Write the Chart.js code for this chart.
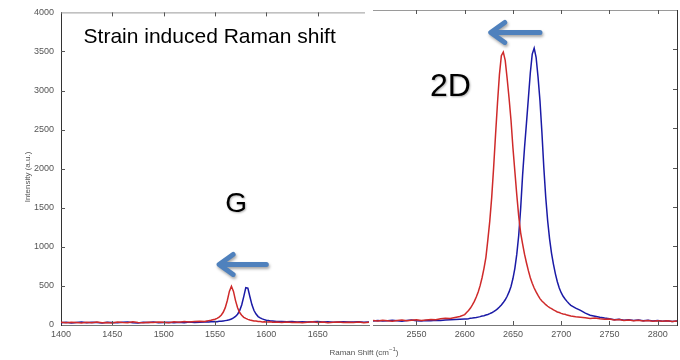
<!DOCTYPE html>
<html>
<head>
<meta charset="utf-8">
<script src="https://cdn.jsdelivr.net/npm/chart.js@4.4.1/dist/chart.umd.min.js"></script>
<style>
  html, body { margin: 0; padding: 0; background: #fff; }
  #wrap { position: relative; width: 680px; height: 360px; }
  canvas { position: absolute; top: 0; }
  #gChart { left: 0; }
  #dChart { left: 372px; }
</style>
</head>
<body>
<div id="wrap">
  <canvas id="gChart" width="680" height="360"></canvas>
  <canvas id="dChart" width="308" height="360"></canvas>
</div>
<script>

/*
** Spectrum data (Raman shift in cm-1, intensity in a.u.)
*/
var gShift = [1400,1405,1410,1415,1420,1425,1430,1435,1440,1445,1450,1455,1460,1465,1470,1475,1480,1485,1490,1495,1500,1505,1510,1515,1520,1525,1530,1535,1540,
    1542,1544,1546,1548,1550,1552,1554,1556,1558,1560,1562,1564,1566,1568,1570,1572,1574,1576,1578,1580,1582,1584,1586,1588,1590,1592,1594,1596,1598,1600,1602,1604,1606,1608,1610,
    1615,1620,1625,1630,1635,1640,1645,1650,1655,1660,1665,1670,1675,1680,1685,1690,1695,1700];
var gRed = [34,28,36,31,27,35,30,38,29,33,26,37,31,28,40,33,29,36,32,39,34,30,41,36,45,38,44,49,46,
    52,56,60,67,74,85,101,125,163,222,314,430,495,430,312,220,160,125,98,84,72,63,58,52,50,46,44,40,42,38,37,41,36,34,37,
    33,38,31,36,29,35,40,32,37,30,34,39,31,36,33,38,30,35];
var gBlue = [30,35,27,33,38,29,34,31,26,36,32,29,35,38,30,27,34,31,37,29,33,36,30,34,28,37,33,35,39,
    40,38,42,41,44,43,48,47,52,56,60,68,77,90,109,138,184,257,363,478,472,362,258,185,140,108,92,78,69,60,57,51,50,47,44,
    46,41,44,39,43,37,42,45,38,41,36,40,43,37,39,42,36,40];

var dShift = [2505,2510,2515,2520,2525,2530,2535,2540,2545,2550,2555,2560,2565,2570,2575,2580,2585,2590,2595,2600,
    2602,2604,2606,2608,2610,2612,2614,2616,2618,2620,2622,2624,2626,2628,2630,2632,2634,2636,2638,2640,
    2642,2644,2646,2648,2650,2652,2654,2656,2658,2660,2662,2664,2666,2668,2670,2672,2674,2676,2678,2680,
    2682,2684,2686,2688,2690,2692,2694,2696,2698,2700,2702,2704,2706,2708,2710,
    2715,2720,2725,2730,2735,2740,2745,2750,2755,2760,2765,2770,2775,2780,2785,2790,2795,2800,2805,2810,2815,2820];
var dRed = [58,52,61,55,49,57,63,54,60,66,58,64,71,67,78,85,82,96,108,132,
    160,185,215,255,300,355,420,500,600,720,860,1080,1320,1620,2000,2420,2820,3180,3420,3465,
    3360,3130,2880,2600,2250,1950,1650,1380,1170,1030,900,790,690,600,530,470,420,375,335,305,
    283,258,238,220,209,192,180,165,158,148,140,136,126,120,114,
    105,98,92,84,88,79,72,76,64,69,58,62,55,60,52,57,49,55,47,53,45,50];
var dBlue = [52,57,50,55,60,53,49,56,62,55,51,58,54,61,57,63,66,70,72,75,
    76,80,87,88,92,94,100,106,115,118,126,134,144,155,170,186,205,228,255,285,
    320,365,420,490,590,720,900,1140,1480,1900,2250,2560,2880,3200,3440,3515,3400,3150,2850,2450,
    2000,1620,1320,1090,910,770,650,550,470,410,365,330,300,272,250,
    215,185,150,125,112,98,88,80,68,72,61,66,57,62,54,59,51,56,48,54,46,52];

var gTicks = [1400, 1450, 1500, 1550, 1600, 1650];
var dTicks = [2550, 2600, 2650, 2700, 2750, 2800];
var yTicks = [0, 500, 1000, 1500, 2000, 2500, 3000, 3500, 4000];

Chart.defaults.font.family = "'Liberation Sans', Arial, sans-serif";

function pts(xs, ys) {
    return xs.map(function (x, i) { return {x: x, y: ys[i]}; });
}

function setTicks(list) {
    return function (scale) {
        scale.ticks = list.map(function (v) { return {value: v}; });
    };
}

function plain(v) {
    return String(v);
}

/*
** Inward tick marks and the frame lines (MATLAB style)
*/
function framePlugin(side) {
    return {
        id: 'frame' + side,
        afterDraw: function (chart) {
            var ctx = chart.ctx, a = chart.chartArea;
            var x = chart.scales.x, y = chart.scales.y;
            var len = 4;
            ctx.save();
            ctx.lineWidth = 1;
            // top border
            ctx.strokeStyle = '#9a9a9a';
            ctx.beginPath();
            ctx.moveTo(a.left, a.top + 0.5);
            ctx.lineTo(side === 'left' ? a.right - 4 : a.right, a.top + 0.5);
            ctx.stroke();
            ctx.strokeStyle = '#555';
            ctx.beginPath();
            x.ticks.forEach(function (t) {
                var px = Math.round(x.getPixelForValue(t.value)) + 0.5;
                if (px <= a.left + 1) return;
                ctx.moveTo(px, a.bottom);
                ctx.lineTo(px, a.bottom - len);
                ctx.moveTo(px, a.top);
                ctx.lineTo(px, a.top + len);
            });
            y.ticks.forEach(function (t) {
                var py = Math.round(y.getPixelForValue(t.value)) + 0.5;
                if (py >= a.bottom - 1 || py <= a.top + 1) return;
                if (side === 'left') {
                    ctx.moveTo(a.left, py);
                    ctx.lineTo(a.left + len, py);
                } else {
                    ctx.moveTo(a.right, py);
                    ctx.lineTo(a.right - len, py);
                }
            });
            ctx.stroke();
            ctx.restore();
        }
    };
}

function drawArrow(ctx, tail, tip, y) {
    ctx.save();
    ctx.strokeStyle = '#4f81bd';
    ctx.lineWidth = 5;
    ctx.lineCap = 'round';
    ctx.lineJoin = 'round';
    ctx.shadowColor = 'rgba(0,0,0,0.35)';
    ctx.shadowBlur = 3;
    ctx.shadowOffsetX = 1;
    ctx.shadowOffsetY = 2;
    ctx.beginPath();
    ctx.moveTo(tail, y);
    ctx.lineTo(tip + 2, y);
    ctx.moveTo(tip + 14, y - 10);
    ctx.lineTo(tip, y);
    ctx.lineTo(tip + 14, y + 10);
    ctx.stroke();
    ctx.restore();
}

function bigText(ctx, txt, px, py, size) {
    ctx.save();
    ctx.fillStyle = '#000';
    ctx.font = size + "px 'Liberation Sans', Arial, sans-serif";
    ctx.textBaseline = 'alphabetic';
    ctx.shadowColor = 'rgba(0,0,0,0.3)';
    ctx.shadowBlur = 2;
    ctx.shadowOffsetX = 1;
    ctx.shadowOffsetY = 1;
    ctx.fillText(txt, px, py);
    ctx.restore();
}

/*
** Labels, arrows and axis titles of the G panel
*/
var gNotes = {
    id: 'gNotes',
    afterDraw: function (chart) {
        var ctx = chart.ctx, a = chart.chartArea;
        var x = chart.scales.x, y = chart.scales.y;
        ctx.save();
        ctx.fillStyle = '#000';
        ctx.font = "21px 'Liberation Sans', Arial, sans-serif";
        ctx.fillText('Strain induced Raman shift', x.getPixelForValue(1422), y.getPixelForValue(3610));
        ctx.restore();

        bigText(ctx, 'G', x.getPixelForValue(1560), y.getPixelForValue(1440), 28);
        drawArrow(ctx, x.getPixelForValue(1600), x.getPixelForValue(1554), y.getPixelForValue(775));

        ctx.save();
        ctx.fillStyle = '#555';
        ctx.font = "8px 'Liberation Sans', Arial, sans-serif";
        ctx.textAlign = 'center';
        ctx.textBaseline = 'middle';
        ctx.translate(a.left - 33, 177);
        ctx.rotate(-Math.PI / 2);
        ctx.fillText('Intensity (a.u.)', 0, 0);
        ctx.restore();

        // x axis title, centred under the join of both panels
        ctx.save();
        ctx.fillStyle = '#555';
        ctx.textBaseline = 'alphabetic';
        ctx.font = "8px 'Liberation Sans', Arial, sans-serif";
        var s1 = 'Raman Shift (cm', s2 = '\u22121', s3 = ')';
        var w1 = ctx.measureText(s1).width, w3 = ctx.measureText(s3).width;
        ctx.font = "6px 'Liberation Sans', Arial, sans-serif";
        var w2 = ctx.measureText(s2).width;
        var x0 = a.right - 5 - (w1 + w2 + w3) / 2, by = 355;
        ctx.font = "8px 'Liberation Sans', Arial, sans-serif";
        ctx.fillText(s1, x0, by);
        ctx.fillText(s3, x0 + w1 + w2, by);
        ctx.font = "6px 'Liberation Sans', Arial, sans-serif";
        ctx.fillText(s2, x0 + w1, by - 4);
        ctx.restore();
    }
};

var dNotes = {
    id: 'dNotes',
    afterDraw: function (chart) {
        var ctx = chart.ctx;
        var x = chart.scales.x, y = chart.scales.y;
        bigText(ctx, '2D', x.getPixelForValue(2564), y.getPixelForValue(2910), 32);
        drawArrow(ctx, x.getPixelForValue(2678), x.getPixelForValue(2627), y.getPixelForValue(3715));
    }
};

var tickFont = {size: 9};
var tickColor = '#555';

function series(xs, red, blue) {
    return [
        {data: pts(xs, red), borderColor: '#cf2a2a', borderWidth: 1.5, pointRadius: 0, tension: 0},
        {data: pts(xs, blue), borderColor: '#1a1aa6', borderWidth: 1.5, pointRadius: 0, tension: 0}
    ];
}

$ = function (id) { return document.getElementById(id); };

/*
** Left panel: G band
*/
new Chart($('gChart'), {
    type: 'line',
    data: {datasets: series(gShift, gRed, gBlue)},
    options: {
        responsive: false,
        animation: false,
        devicePixelRatio: 1,
        layout: {padding: {top: 10, right: 311, bottom: 0, left: 0}},
        plugins: {legend: {display: false}, tooltip: {enabled: false}},
        scales: {
            x: {
                type: 'linear', min: 1400, max: 1700,
                afterBuildTicks: setTicks(gTicks),
                afterFit: function (s) { s.height = 35; },
                grid: {display: false, drawTicks: false},
                border: {display: true, color: '#777', width: 1},
                ticks: {font: tickFont, color: tickColor, padding: 4, maxRotation: 0, autoSkip: false, callback: plain}
            },
            y: {
                min: 0, max: 4000,
                afterBuildTicks: setTicks(yTicks),
                afterFit: function (s) { s.width = 61; },
                grid: {display: false, drawTicks: false},
                border: {display: true, color: '#333', width: 1},
                ticks: {font: tickFont, color: tickColor, padding: 7, callback: plain}
            }
        }
    },
    plugins: [framePlugin('left'), gNotes]
});

/*
** Right panel: 2D band
*/
new Chart($('dChart'), {
    type: 'line',
    data: {datasets: series(dShift, dRed, dBlue)},
    options: {
        responsive: false,
        animation: false,
        devicePixelRatio: 1,
        layout: {padding: {top: 10, right: 3, bottom: 0, left: 1}},
        plugins: {legend: {display: false}, tooltip: {enabled: false}},
        scales: {
            x: {
                type: 'linear', min: 2505, max: 2820,
                afterBuildTicks: setTicks(dTicks),
                afterFit: function (s) { s.height = 35; },
                grid: {display: false, drawTicks: false},
                border: {display: true, color: '#777', width: 1},
                ticks: {font: tickFont, color: tickColor, padding: 4, maxRotation: 0, autoSkip: false, callback: plain}
            },
            y: {
                position: 'right',
                min: 0, max: 4000,
                afterBuildTicks: setTicks(yTicks),
                afterFit: function (s) { s.width = 0; },
                grid: {display: false, drawTicks: false},
                border: {display: true, color: '#333', width: 1},
                ticks: {display: false}
            }
        }
    },
    plugins: [framePlugin('right'), dNotes]
});
</script>
</body>
</html>
